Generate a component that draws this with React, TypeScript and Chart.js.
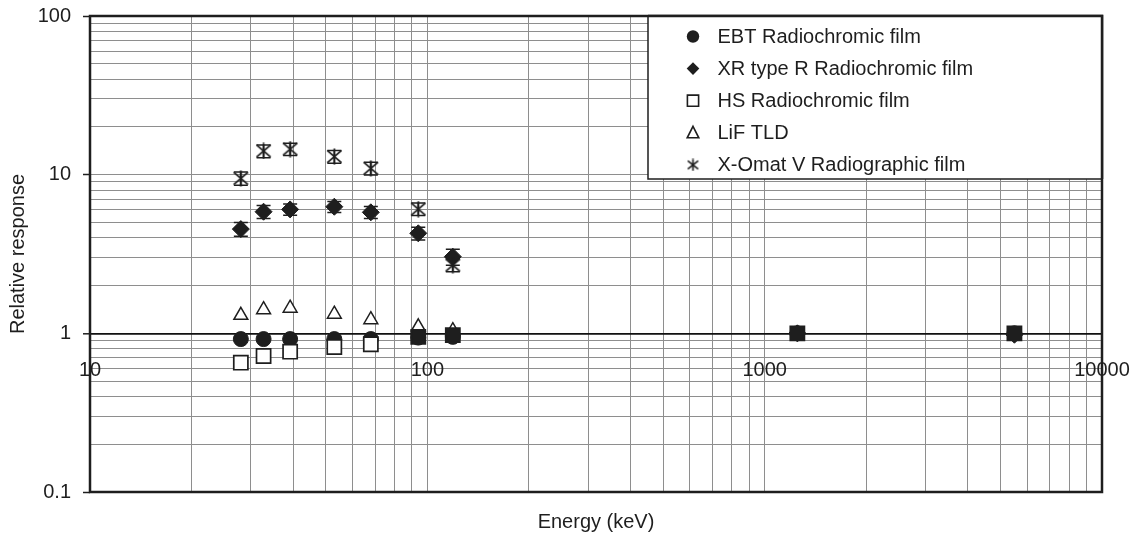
import React, { useEffect, useRef } from 'react';
import { Chart, registerables } from 'chart.js';

Chart.register(...registerables);

// ---------- data ----------
const seriesLabels = [
  'EBT Radiochromic film',
  'XR type R Radiochromic film',
  'HS Radiochromic film',
  'LiF TLD',
  'X-Omat V Radiographic film',
];
const energiesKeV = [28, 32.7, 39.2, 53, 68, 94, 119, 1250, 5500];
const kvEnergiesKeV = [28, 32.7, 39.2, 53, 68, 94, 119];
const ebtResponse = [0.92, 0.92, 0.92, 0.92, 0.92, 0.94, 0.95, 1.0, 1.0];
const xrResponse = [4.54, 5.84, 6.04, 6.28, 5.79, 4.27, 3.04, 1.0, 0.98];
const xrError = [0.45, 0.55, 0.5, 0.5, 0.5, 0.4, 0.35, 0, 0];
const hsResponse = [0.653, 0.72, 0.766, 0.82, 0.853, 0.95, 0.975, 1.0, 1.0];
const lifResponse = [1.3, 1.41, 1.44, 1.32, 1.22, 1.1, 1.04];
const xomatResponse = [9.48, 14.1, 14.5, 13.0, 10.96, 6.07, 2.69];
const xomatError = [0.9, 1.3, 1.3, 1.2, 1.0, 0.55, 0.25];
const xTickLabels = ['10', '100', '1000', '10000'];
const yTickLabels = ['0.1', '1', '10', '100'];
const xTitle = 'Energy (keV)';
const yTitle = 'Relative response';

// ---------- style ----------
const INK = '#1e1e1e';
const GRID = '#8e8e8e';
const FONT_FAMILY = '"Liberation Sans", Arial, Helvetica, sans-serif';
const FONT = { family: FONT_FAMILY, size: 20 };

const pts = (xs: number[], ys: number[]) => ys.map((y, i) => ({ x: xs[i], y }));

const labelFor = (labels: string[], v: number) => {
  const hit = labels.find((l) => Math.abs(Math.log10(Number(l)) - Math.log10(v)) < 1e-6);
  return hit === undefined ? '' : hit;
};

const logGridValues = (labels: string[]) => {
  const vals: number[] = [];
  for (let i = 0; i < labels.length - 1; i++) {
    const d = Number(labels[i]);
    for (let m = 1; m <= 9; m++) vals.push(d * m);
  }
  vals.push(Number(labels[labels.length - 1]));
  return vals;
};

const isMajor = (labels: string[], v: number) => labelFor(labels, v) !== '';

const zeroPad = (scale: any) => {
  scale.paddingTop = 0;
  scale.paddingBottom = 0;
  scale.paddingLeft = 0;
  scale.paddingRight = 0;
};

function makeAsterisk(size: number, lw: number): HTMLCanvasElement {
  const c = document.createElement('canvas');
  c.width = size;
  c.height = size;
  const g = c.getContext('2d')!;
  g.strokeStyle = INK;
  g.lineWidth = lw;
  g.lineCap = 'butt';
  const p = lw / 2 + 0.5;
  const m = size / 2;
  g.beginPath();
  g.moveTo(p, p + 1);
  g.lineTo(size - p, size - p - 1);
  g.moveTo(size - p, p + 1);
  g.lineTo(p, size - p - 1);
  g.moveTo(m, 0.5);
  g.lineTo(m, size - 0.5);
  g.stroke();
  return c;
}

export default function App() {
  const ref = useRef<HTMLCanvasElement | null>(null);

  useEffect(() => {
    if (!ref.current) return;
    const plotStar = makeAsterisk(17, 1.8);
    const legendStar = makeAsterisk(13, 1.6);

    const framePlugin = {
      id: 'frameAndErrors',
      beforeDatasetsDraw(chart: any) {
        const { ctx, chartArea, scales } = chart;
        ctx.save();
        ctx.strokeStyle = INK;
        ctx.lineWidth = 1.5;
        const drawErr = (xs: number[], ys: number[], es: number[]) => {
          ys.forEach((y, i) => {
            const e = es[i];
            if (!e) return;
            const px = scales.x.getPixelForValue(xs[i]);
            const top = scales.y.getPixelForValue(y + e);
            const bot = scales.y.getPixelForValue(y - e);
            ctx.beginPath();
            ctx.moveTo(px, top);
            ctx.lineTo(px, bot);
            ctx.moveTo(px - 7, top);
            ctx.lineTo(px + 7, top);
            ctx.moveTo(px - 7, bot);
            ctx.lineTo(px + 7, bot);
            ctx.stroke();
          });
        };
        drawErr(energiesKeV, xrResponse, xrError);
        drawErr(kvEnergiesKeV, xomatResponse, xomatError);
        ctx.strokeStyle = INK;
        ctx.lineWidth = 2.5;
        ctx.strokeRect(
          chartArea.left,
          chartArea.top,
          chartArea.right - chartArea.left,
          chartArea.bottom - chartArea.top
        );
        ctx.restore();
      },
    };

    const legendPlugin = {
      id: 'boxLegend',
      afterDraw(chart: any) {
        const { ctx, chartArea } = chart;
        const w = 454;
        const h = 163;
        const x0 = chartArea.right - w;
        const y0 = chartArea.top;
        ctx.save();
        ctx.fillStyle = '#fff';
        ctx.fillRect(x0, y0, w, h);
        ctx.strokeStyle = INK;
        ctx.lineWidth = 1.5;
        ctx.strokeRect(x0, y0, w, h);
        ctx.lineWidth = 2.5;
        ctx.beginPath();
        ctx.moveTo(x0, y0);
        ctx.lineTo(chartArea.right, y0);
        ctx.lineTo(chartArea.right, y0 + h);
        ctx.stroke();
        const mx = x0 + 45;
        const tx = x0 + 69.5;
        ctx.font = `20px ${FONT_FAMILY}`;
        ctx.textBaseline = 'middle';
        ctx.textAlign = 'left';
        seriesLabels.forEach((lab, i) => {
          const cy = y0 + 20.5 + i * 32.1;
          ctx.fillStyle = INK;
          ctx.strokeStyle = INK;
          ctx.lineWidth = 1.6;
          ctx.beginPath();
          if (i === 0) {
            ctx.arc(mx, cy, 6.2, 0, Math.PI * 2);
            ctx.fill();
          } else if (i === 1) {
            ctx.moveTo(mx, cy - 6.3);
            ctx.lineTo(mx + 6.3, cy);
            ctx.lineTo(mx, cy + 6.3);
            ctx.lineTo(mx - 6.3, cy);
            ctx.closePath();
            ctx.fill();
          } else if (i === 2) {
            ctx.rect(mx - 5.6, cy - 5.6, 11.2, 11.2);
            ctx.stroke();
          } else if (i === 3) {
            ctx.moveTo(mx, cy - 6.5);
            ctx.lineTo(mx + 5.8, cy + 5);
            ctx.lineTo(mx - 5.8, cy + 5);
            ctx.closePath();
            ctx.stroke();
          } else {
            ctx.drawImage(legendStar, mx - 6.5, cy - 6.5);
          }
          ctx.fillStyle = INK;
          ctx.fillText(lab, tx, cy + 1);
        });
        ctx.restore();
      },
    };

    const chart = new Chart(ref.current, {
      type: 'scatter',
      data: {
        datasets: [
          {
            label: seriesLabels[0],
            data: pts(energiesKeV, ebtResponse),
            pointStyle: 'circle',
            pointRadius: 7.5,
            pointBackgroundColor: INK,
            pointBorderColor: INK,
            pointBorderWidth: 1,
            order: 3,
          },
          {
            label: seriesLabels[1],
            data: pts(energiesKeV, xrResponse),
            pointStyle: 'rectRot',
            pointRadius: 8.5,
            pointBackgroundColor: INK,
            pointBorderColor: INK,
            pointBorderWidth: 1,
            order: 4,
          },
          {
            label: seriesLabels[2],
            data: pts(energiesKeV, hsResponse),
            pointStyle: 'rect',
            pointRadius: 10,
            pointBackgroundColor: energiesKeV.map((e) => (e >= 90 ? INK : '#ffffff')),
            pointBorderColor: INK,
            pointBorderWidth: 1.7,
            order: 0,
          },
          {
            label: seriesLabels[3],
            data: pts(kvEnergiesKeV, lifResponse),
            pointStyle: 'triangle',
            pointRadius: 8,
            pointBackgroundColor: '#ffffff',
            pointBorderColor: INK,
            pointBorderWidth: 1.5,
            order: 2,
          },
          {
            label: seriesLabels[4],
            data: pts(kvEnergiesKeV, xomatResponse),
            pointStyle: plotStar as any,
            pointRadius: 8,
            order: 1,
          },
        ],
      } as any,
      options: {
        animation: false,
        responsive: true,
        maintainAspectRatio: false,
        events: [],
        layout: { padding: { left: 0, right: 30, top: 16, bottom: 0 } },
        plugins: {
          legend: { display: false },
          tooltip: { enabled: false },
        },
        scales: {
          x: {
            type: 'logarithmic',
            min: 10,
            max: 10000,
            position: { y: 1 } as any,
            afterBuildTicks: (scale: any) => {
              scale.ticks = logGridValues(xTickLabels).map((v) => ({ value: v }));
            },
            afterFit: zeroPad,
            grid: {
              color: GRID,
              lineWidth: 1,
              drawTicks: false,
            },
            border: { display: true, color: '#111', width: 1.6 },
            ticks: {
              autoSkip: false,
              maxRotation: 0,
              minRotation: 0,
              padding: 25,
              color: INK,
              font: FONT,
              callback: (v: any) => labelFor(xTickLabels, Number(v)),
            },
          },
          x2: {
            type: 'logarithmic',
            position: 'bottom',
            min: 10,
            max: 10000,
            grid: { display: false, drawTicks: false },
            border: { display: false },
            ticks: { display: false },
            title: {
              display: true,
              text: xTitle,
              color: INK,
              font: FONT,
              padding: { top: 0, bottom: 1 },
            },
            afterFit: (scale: any) => {
              zeroPad(scale);
              scale.height = 43;
            },
          },
          y: {
            type: 'logarithmic',
            min: 0.1,
            max: 100,
            position: 'left',
            afterBuildTicks: (scale: any) => {
              scale.ticks = logGridValues(yTickLabels).map((v) => ({ value: v }));
            },
            grid: {
              color: (c: any) =>
                c.tick && Math.abs(c.tick.value - 1) < 1e-9 ? '#111' : GRID,
              lineWidth: (c: any) =>
                c.tick && Math.abs(c.tick.value - 1) < 1e-9 ? 1.6 : 1,
              drawTicks: true,
              tickLength: 7,
              tickWidth: 1.5,
              tickColor: (c: any) =>
                c.tick && isMajor(yTickLabels, c.tick.value) ? INK : 'rgba(0,0,0,0)',
            },
            border: { display: false },
            ticks: {
              autoSkip: false,
              padding: 12,
              color: INK,
              font: FONT,
              callback: (v: any) => labelFor(yTickLabels, Number(v)),
            },
            title: {
              display: true,
              text: yTitle,
              color: INK,
              font: FONT,
              padding: { top: 6, bottom: 0 },
            },
            afterFit: (scale: any) => {
              zeroPad(scale);
              scale.width = 90;
            },
          },
        },
      } as any,
      plugins: [framePlugin, legendPlugin],
    });
    return () => chart.destroy();
  }, []);

  return (
    <div
      style={{
        position: 'fixed',
        left: 0,
        top: 0,
        width: 1132,
        height: 535,
        background: '#fff',
      }}
    >
      <canvas ref={ref} />
    </div>
  );
}
